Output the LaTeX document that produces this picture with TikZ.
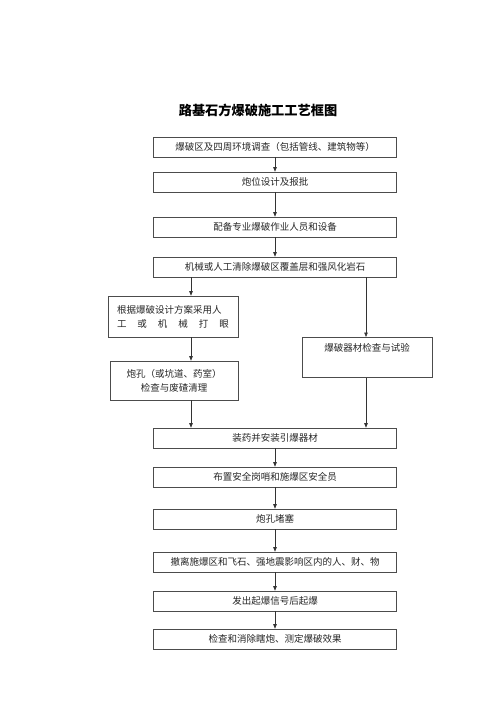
\documentclass[tikz,border=0pt]{standalone}
\usepackage{fontspec}
\newfontfamily\cjk{Noto Sans CJK SC}
\usetikzlibrary{arrows.meta}
\tikzset{
  boxtext/.style={font=\cjk\fontsize{9.5}{14}\selectfont,text=black!85},
  stepbox/.style={boxtext,draw=black!70,line width=0.6pt,minimum width=243pt,minimum height=20pt,inner sep=0pt},
  sidebox/.style={boxtext,draw=black!70,line width=0.6pt,inner sep=0pt},
  flow/.style={-{Triangle[length=4.5pt,width=3.5pt]},line width=0.6pt,black!80}
}
\begin{document}
\begin{tikzpicture}[x=1pt,y=-1pt]
	\useasboundingbox (0,0) rectangle (500,707);
	% title
	\node[font=\cjk\bfseries\fontsize{13.2}{15}\selectfont] (title) at (258,110) {路基石方爆破施工工艺框图};
	% main column
	\node[stepbox] (survey) at (275,147) {爆破区及四周环境调查（包括管线、建筑物等）};
	\node[stepbox] (design) at (275,182) {炮位设计及报批};
	\node[stepbox] (equip) at (275,227) {配备专业爆破作业人员和设备};
	\node[stepbox] (clear) at (275,267) {机械或人工清除爆破区覆盖层和强风化岩石};
	% two branches
	\node[sidebox,minimum width=130pt,minimum height=41pt,align=left] (drill) at (173,316.5)
		{根据爆破设计方案采用人\\\makebox[112pt]{工\hfill 或\hfill 机\hfill 械\hfill 打\hfill 眼}};
	\node[sidebox,minimum width=128pt,minimum height=39pt,align=center] (holes) at (174,380.5)
		{炮孔（或坑道、药室）\\检查与废碴清理};
	\node[sidebox,minimum width=130pt,text height=14.5pt,text depth=25.5pt,anchor=north] (check) at (367,337)
		{爆破器材检查与试验};
	% main column again
	\node[stepbox] (charge) at (275,438) {装药并安装引爆器材};
	\node[stepbox] (guard) at (275,477) {布置安全岗哨和施爆区安全员};
	\node[stepbox] (stem) at (275,519) {炮孔堵塞};
	\node[stepbox] (evac) at (275,562) {撤离施爆区和飞石、强地震影响区内的人、财、物};
	\node[stepbox] (fire) at (275,601) {发出起爆信号后起爆};
	\node[stepbox] (inspect) at (275,639) {检查和消除瞎炮、测定爆破效果};
	% arrows
	\coordinate (lx) at (191,0);
	\coordinate (rx) at (366,0);
	\draw[flow] (survey) -- (design);
	\draw[flow] (design) -- (equip);
	\draw[flow] (equip) -- (clear);
	\draw[flow] (clear.south -| lx) -- (drill.north -| lx);
	\draw[flow] (drill.south -| lx) -- (holes.north -| lx);
	\draw[flow] (holes.south -| lx) -- (charge.north -| lx);
	\draw[flow] (clear.south -| rx) -- (check.north -| rx);
	\draw[flow] (check.south -| rx) -- (charge.north -| rx);
	\draw[flow] (charge) -- (guard);
	\draw[flow] (guard) -- (stem);
	\draw[flow] (stem) -- (evac);
	\draw[flow] (evac) -- (fire);
	\draw[flow] (fire) -- (inspect);
\end{tikzpicture}
\end{document}
